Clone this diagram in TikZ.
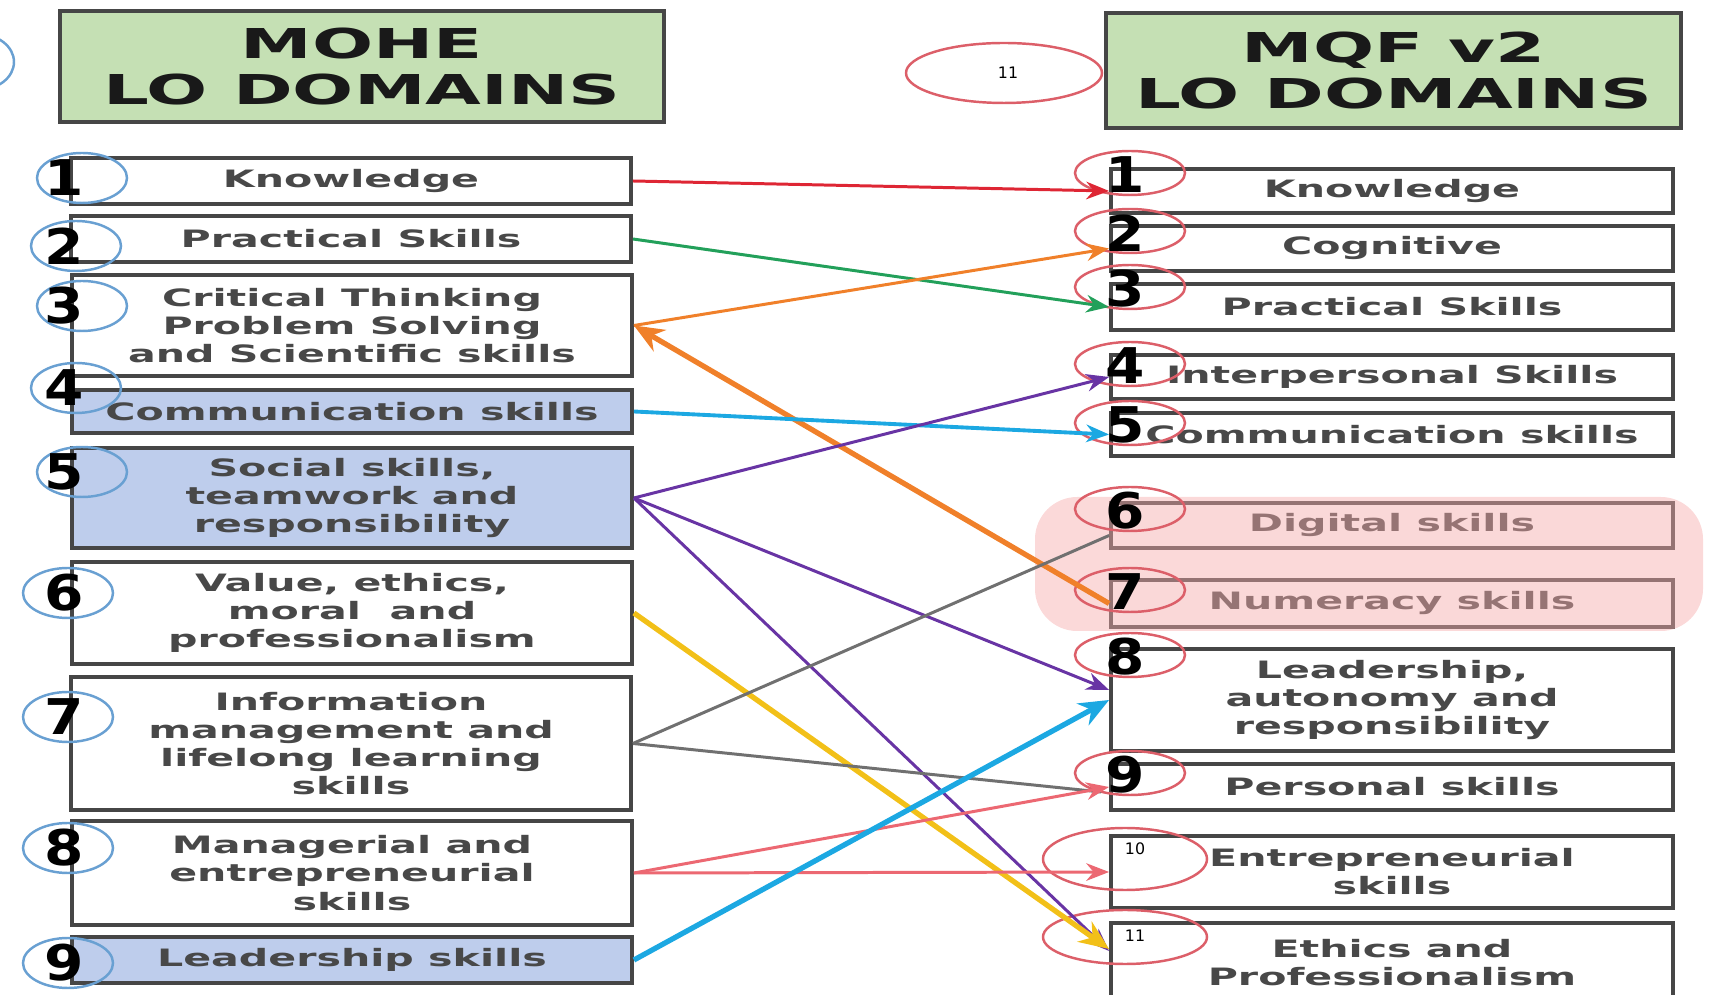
\documentclass[tikz,border=0pt]{standalone}
\usepackage{fontspec}
\setmainfont{DejaVu Sans}
\newfontfamily\boxfont[FakeStretch=1.72]{DejaVu Sans}
\newfontfamily\headfont[FakeStretch=1.75]{DejaVu Sans}
\newfontfamily\numfont[FakeStretch=1.15]{DejaVu Sans}
\usetikzlibrary{arrows.meta}
\definecolor{headgreen}{RGB}{197,224,180}
\definecolor{boxblue}{RGB}{190,205,236}
\definecolor{hlpink}{RGB}{246,170,170}
\definecolor{boxline}{RGB}{70,70,70}
\definecolor{boxtext}{RGB}{72,72,72}
\definecolor{lring}{RGB}{105,160,210}
\definecolor{rring}{RGB}{220,95,105}
\definecolor{cred}{RGB}{222,38,52}
\definecolor{cgreen}{RGB}{34,160,90}
\definecolor{corange}{RGB}{240,128,42}
\definecolor{ccyan}{RGB}{28,168,226}
\definecolor{cpurple}{RGB}{104,52,164}
\definecolor{cyellow}{RGB}{242,192,24}
\definecolor{cgrey}{RGB}{112,112,112}
\definecolor{cpink}{RGB}{236,104,114}

\begin{document}
\begin{tikzpicture}[
    x=0.01cm, y=-0.01cm,
    head/.style={draw=boxline, line width=1pt, fill=headgreen, align=center, inner sep=0pt,
      font=\headfont\bfseries\fontsize{11.7}{13}\selectfont, text=black!90},
    lbox/.style={draw=boxline, line width=1pt, fill=white, align=center, inner sep=0pt,
      minimum width=5.6cm, font=\boxfont\bfseries\fontsize{6.8}{8}\selectfont, text=boxtext},
    rbox/.style={lbox, minimum width=5.62cm},
    num/.style={inner sep=0pt, font=\numfont\bfseries\fontsize{14}{14}\selectfont},
    small/.style={inner sep=0pt, font=\fontsize{4.5}{5}\selectfont},
    link/.style={-{Stealth[length=6.5pt,width=5pt]}, line width=0.85pt},
    heavy/.style={-{Stealth[length=8.5pt,width=7pt]}, line width=1.5pt},
]
    \useasboundingbox (0,0) rectangle (1712,995);
    \node[head, minimum width=6.04cm, minimum height=1.11cm] (mohe) at (362,66.5) {MOHE\\LO DOMAINS};
    \node[head, minimum width=5.75cm, minimum height=1.15cm] (mqf) at (1393.5,70.5) {MQF v2\\LO DOMAINS};
    \draw[rring, line width=0.7pt] (1004,73) ellipse [x radius=98, y radius=30];
    \node[small] (hdnum) at (1008,73) {11};
    \draw[lring, line width=0.7pt] (-22,62) ellipse [x radius=36, y radius=28];

    \node[lbox, minimum height=0.46cm] (l1) at (351,181) {Knowledge};
    \node[lbox, minimum height=0.46cm] (l2) at (351,239) {Practical Skills};
    \node[lbox, minimum height=1.01cm] (l3) at (352,325.5) {Critical Thinking\\Problem Solving\\and Scientific skills};
    \node[lbox, minimum height=0.43cm, fill=boxblue] (l4) at (352,411.5) {Communication skills};
    \node[lbox, minimum height=1.0cm, fill=boxblue] (l5) at (352,498) {Social skills,\\teamwork and\\responsibility};
    \node[lbox, minimum height=1.02cm] (l6) at (352,613) {Value, ethics,\\moral\ \ and\\professionalism};
    \node[lbox, minimum height=1.33cm] (l7) at (351,743.5) {Information\\management and\\lifelong learning\\skills};
    \node[lbox, minimum height=1.04cm] (l8) at (352,873) {Managerial and\\entrepreneurial\\skills};
    \node[lbox, minimum height=0.46cm, fill=boxblue] (l9) at (352,960) {Leadership skills};

    \node[rbox, minimum height=0.44cm] (r1) at (1392,191) {Knowledge};
    \node[rbox, minimum height=0.45cm] (r2) at (1392,248.5) {Cognitive};
    \node[rbox, minimum height=0.46cm] (r3) at (1392,307) {Practical Skills};
    \node[rbox, minimum height=0.44cm] (r4) at (1392,377) {Interpersonal Skills};
    \node[rbox, minimum height=0.43cm] (r5) at (1392,434.5) {Communication skills};
    \node[rbox, minimum height=0.45cm] (r6) at (1392,525.5) {Digital skills};
    \node[rbox, minimum height=0.47cm] (r7) at (1392,603.5) {Numeracy skills};
    \node[rbox, minimum height=1.02cm] (r8) at (1392,700) {Leadership,\\autonomy and\\responsibility};
    \node[rbox, minimum height=0.46cm] (r9) at (1392,787) {Personal skills};
    \node[rbox, minimum height=0.72cm] (r10) at (1392,872) {Entrepreneurial\\skills};
    \node[rbox, minimum height=0.8cm] (r11) at (1392,963) {Ethics and\\Professionalism};
    \fill[hlpink, opacity=0.45, rounded corners=12] (1035,497) rectangle (1703,631);

    \foreach \i/\xx/\yy in {1/82/178, 2/76/246, 3/82/306, 4/76/388, 5/82/472, 6/68/593, 7/68/717, 8/68/848, 9/68/963}
    {
      \draw[lring, line width=0.7pt] (\xx,\yy) ellipse [x radius=45, y radius=25];
      \node[num] (ln\i) at (64,\yy) {\i};
    }
    \foreach \i/\yy in {1/173, 2/231, 3/287, 4/364, 5/423, 6/509, 7/590, 8/655, 9/773}
    {
      \draw[rring, line width=0.7pt] (1130,\yy) ellipse [x radius=55, y radius=22];
      \node[num] (rn\i) at (1125,\yy+2) {\i};
    }
    \draw[rring, line width=0.7pt] (1125,859) ellipse [x radius=82, y radius=31];
    \node[small] (rn10) at (1135,849) {10};
    \draw[rring, line width=0.7pt] (1125,937) ellipse [x radius=82, y radius=27];
    \node[small] (rn11) at (1135,936) {11};

    \draw[link, cred] (l1.east) -- (r1.west);
    \draw[link, cgreen] (l2.east) -- (r3.west);
    \draw[link, corange] (l3.east) -- (r2.west);
    \draw[heavy, corange] (r7.west) -- (l3.east);
    \draw[link, ccyan, line width=1.1pt] (l4.east) -- (r5.west);
    \draw[link, cpurple] (l5.east) -- (r4.west);
    \draw[link, cpurple] (l5.east) -- ([yshift=0.1cm]r8.west);
    \draw[link, cpurple] (l5.east) -- ([yshift=0.12cm]r11.west);
    \draw[heavy, cyellow] (l6.east) -- ([yshift=0.14cm]r11.west);
    \draw[cgrey, line width=0.85pt] (l7.east) -- ([yshift=-0.1cm]r6.west);
    \draw[cgrey, line width=0.85pt] (l7.east) -- ([xshift=-0.08cm,yshift=-0.05cm]r9.west);
    \draw[link, cpink] (l8.east) -- (r9.west);
    \draw[link, cpink] (l8.east) -- (r10.west);
    \draw[heavy, ccyan] (l9.east) -- (r8.west);
\end{tikzpicture}
\end{document}
